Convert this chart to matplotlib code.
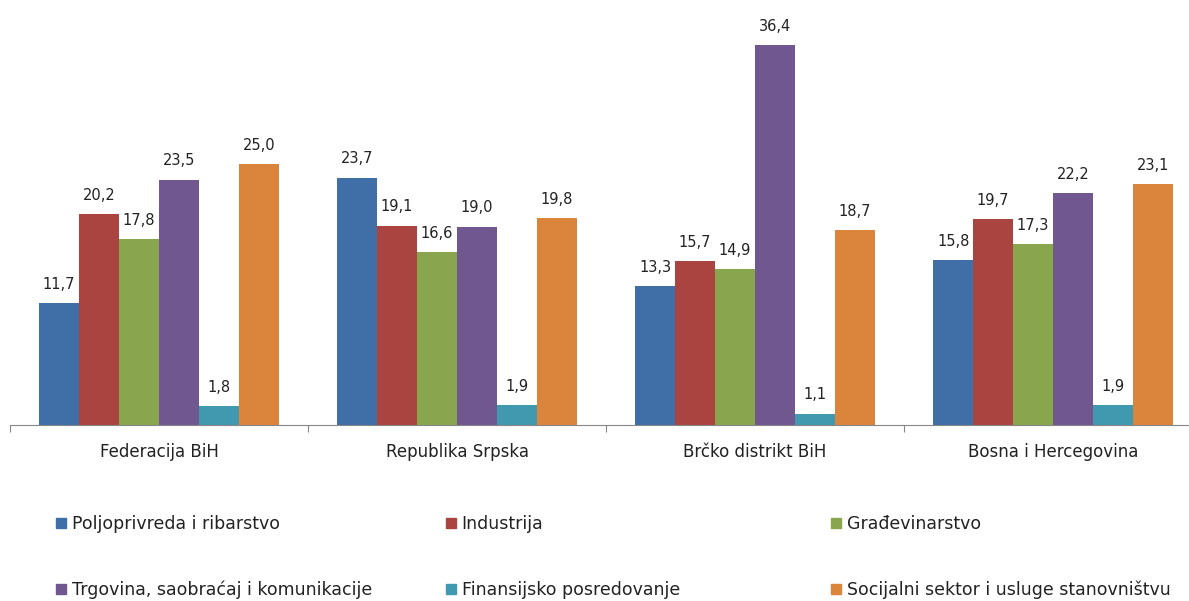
import matplotlib.pyplot as plt
from matplotlib.patches import Patch
import numpy as np

# categories and series (values as shown, comma decimals)
regions = ["Federacija BiH", "Republika Srpska", "Brčko distrikt BiH", "Bosna i Hercegovina"]
sectors = ["Poljoprivreda i ribarstvo", "Industrija", "Građevinarstvo",
           "Trgovina, saobraćaj i komunikacije", "Finansijsko posredovanje",
           "Socijalni sektor i usluge stanovništvu"]
poljoprivreda = [11.7, 23.7, 13.3, 15.8]
industrija = [20.2, 19.1, 15.7, 19.7]
gradjevinarstvo = [17.8, 16.6, 14.9, 17.3]
trgovina = [23.5, 19.0, 36.4, 22.2]
finansije = [1.8, 1.9, 1.1, 1.9]
socijalni = [25.0, 19.8, 18.7, 23.1]
series = [poljoprivreda, industrija, gradjevinarstvo, trgovina, finansije, socijalni]
colors = ["#3F6FA6", "#AA4441", "#89A64E", "#71578F", "#4199B0", "#DB843C"]

fig = plt.figure(figsize=(11.89, 6.01), dpi=100)
ax = fig.add_axes([10 / 1189, 176 / 601, 1192 / 1189, 425 / 601])

x = np.arange(len(regions)) + 0.5
w = 0.134
for j, vals in enumerate(series):
    pos = x + (j - 2.5) * w
    bars = ax.bar(pos, vals, width=w, color=colors[j], label=sectors[j])
    for b, v in zip(bars, vals):
        ax.annotate(f"{v:.1f}".replace(".", ","), (b.get_x() + w / 2, v),
                    xytext=(0, 8), textcoords="offset points",
                    ha="center", va="bottom", fontsize=10.5, color="#222222")

ax.set_xlim(0, 4)
ax.set_ylim(0, 40.7)
ax.set_yticks([])
for s in ["left", "top", "right"]:
    ax.spines[s].set_visible(False)
ax.spines["bottom"].set_color("#868686")
ax.set_xticks([0, 1, 2, 3, 4])
ax.set_xticklabels([])
ax.tick_params(axis="x", which="major", length=5, color="#868686")
ax.set_xticks(x, minor=True)
ax.set_xticklabels(regions, minor=True, fontsize=12, color="#222222")
ax.tick_params(axis="x", which="minor", length=0, pad=13)

# legend: three columns, two rows
cols_x = [56 / 1189, 446 / 1189, 831 / 1189]
for c in range(3):
    handles = [Patch(color=colors[c]), Patch(color=colors[c + 3])]
    labels = [sectors[c], sectors[c + 3]]
    fig.legend(handles, labels, loc="center left", bbox_to_anchor=(cols_x[c], 0.073),
               frameon=False, fontsize=12.5, handlelength=0.55, handleheight=0.55,
               handletextpad=0.35, borderpad=0, borderaxespad=0, labelspacing=2.75,
               labelcolor="#222222")

fig.savefig("out.png", dpi=100)
